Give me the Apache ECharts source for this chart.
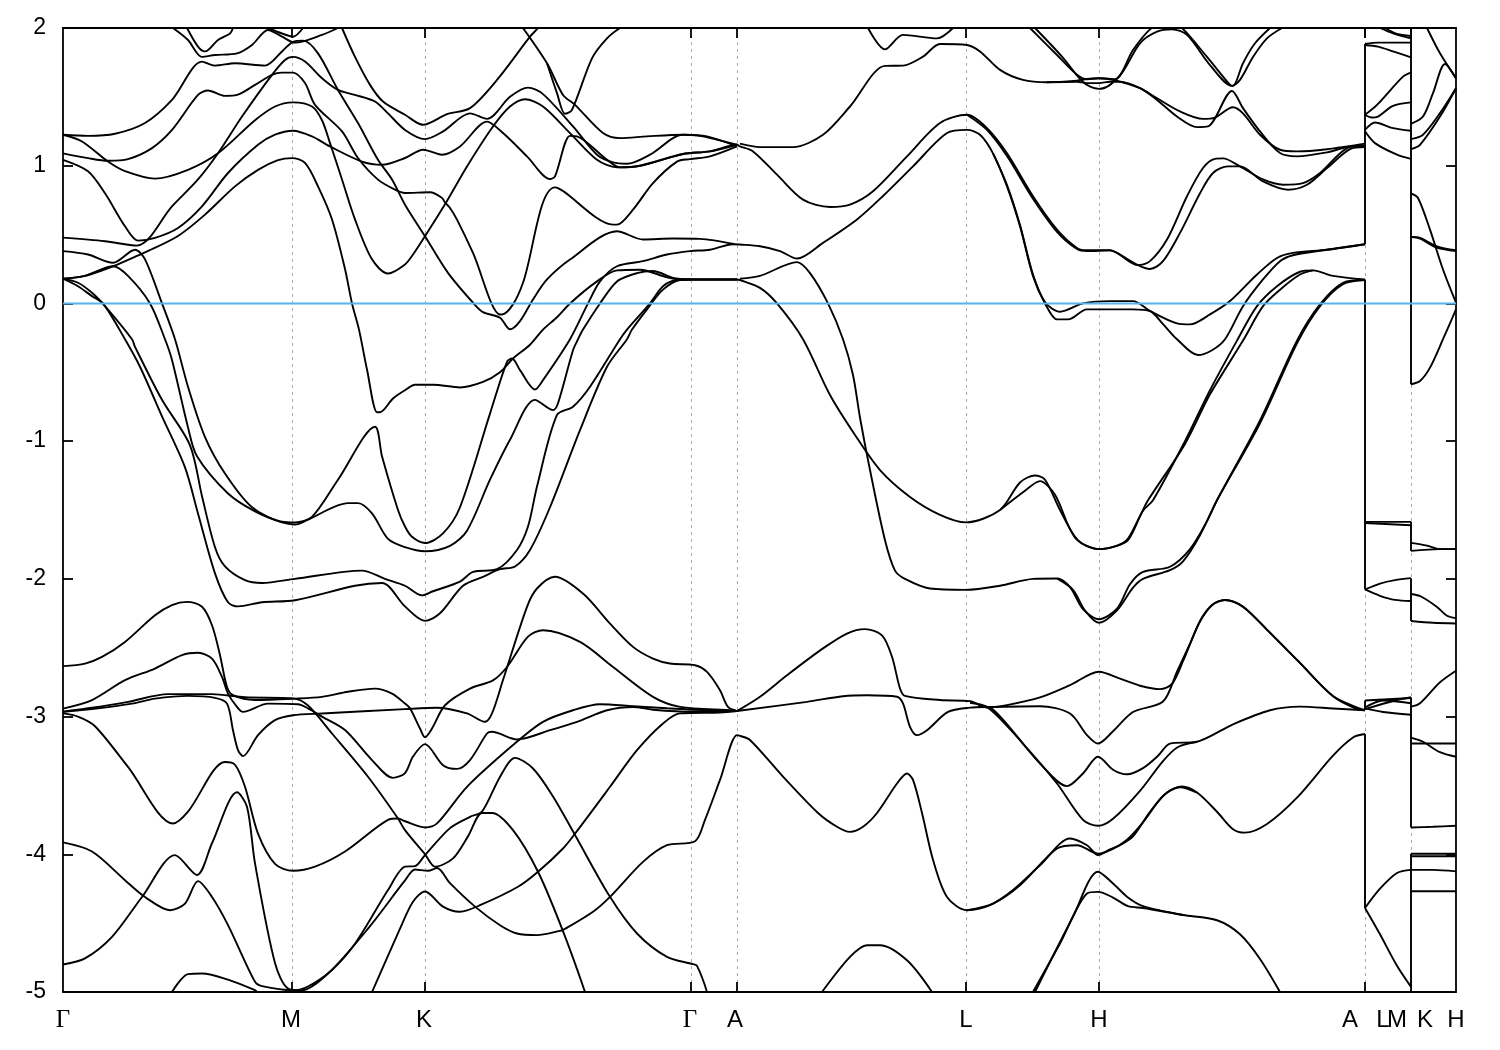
<!DOCTYPE html>
<html><head><meta charset="utf-8">
<style>html,body{margin:0;padding:0;background:#fff}#c{width:1500px;height:1050px}</style>
<script src="https://cdn.jsdelivr.net/npm/echarts@6/dist/echarts.min.js"></script>
</head><body><div id="c"></div>
<script>
// k-path coordinate (arbitrary path units) and energy (eV)
const tickK=[229,362,628,674,903,1036,1302,1348];
const labelK=[0,228,361,627,672,903,1036,1287,1320,1334,1362,1393];
const labelText=['Γ','M','K','Γ','A','L','H','A','L','M','K','H'];
const yTicks=[-5,-4,-3,-2,-1,0,1,2];
const fermi=[[0,0],[1393,0]];

const band01=[[0,.18],[22,.20],[50,.27],[77,.355],[82,.37],[115,.49],[142,.645],[172,.85],[195,.97],[215,1.04],[229,1.055],[242,1.02],[255,.85],[269,.61],[282,.25],[289,0],[296,-.19],[304,-.48],[314,-.79],[317,-.79],[330,-.69],[342,-.63],[352,-.59],[370,-.59],[397,-.61],[420,-.57],[437,-.50],[450,-.40],[467,-.30],[480,-.19],[494,-.10],[507,0],[534,.16],[554,.24],[577,.245],[604,.19],[620,.174],[628,.174],[674,.174],[677,.17],[697,.113],[714,0],[740,-.26],[767,-.665],[792,-.955],[817,-1.21],[847,-1.405],[877,-1.535],[903,-1.59],[937,-1.50],[957,-1.30],[972,-1.25],[982,-1.28],[997,-1.50],[1015,-1.72],[1036,-1.784],[1054,-1.759],[1065,-1.708],[1080,-1.505],[1090,-1.429],[1122,-1],[1147,-.63],[1174,-.27],[1194,-.02],[1214,.125],[1237,.23],[1250,.24],[1270,.20],[1302,.174]];
const band02=[[937,-1.50],[962,-1.36],[977,-1.29],[992,-1.39],[1012,-1.70],[1036,-1.784],[1054,-1.76],[1065,-1.72],[1078,-1.53],[1085,-1.43],[1122,-1.02],[1147,-.66],[1180,-.27],[1200,-.02],[1217,.10],[1237,.21],[1250,.24]];
const band03=[[677,.18],[697,.2],[734,.30],[747,.22],[765,0],[780,-.26],[790,-.52],[797,-.83],[807,-1.21],[822,-1.72],[832,-1.94],[842,-2.0],[867,-2.07],[903,-2.08],[937,-2.05],[970,-2.0],[994,-1.997],[1007,-2.06],[1020,-2.22],[1036,-2.293],[1054,-2.217],[1067,-2.039],[1080,-1.95],[1107,-1.912],[1127,-1.784],[1144,-1.581],[1154,-1.429],[1197,-.85],[1234,-.27],[1257,-.007],[1280,.15],[1302,.17]];
const band04=[[994,-1.997],[1010,-2.08],[1022,-2.23],[1036,-2.319],[1054,-2.229],[1070,-2.064],[1080,-2.0],[1107,-1.937],[1120,-1.873],[1137,-1.683],[1154,-1.429],[1197,-.87],[1234,-.29],[1257,-.02],[1280,.14],[1302,.17]];
const band05=[[0,.18],[15,.15],[29,.077],[42,-.02],[69,-.26],[72,-.315],[99,-.70],[127,-1.03],[139,-1.40],[152,-1.77],[162,-1.91],[182,-2.01],[199,-2.03],[232,-2.0],[299,-1.94],[322,-2.0],[342,-2.05],[359,-2.12],[370,-2.09],[397,-2.02],[410,-1.95],[434,-1.93],[454,-1.79],[465,-1.62],[474,-1.33],[494,-.81],[510,-.75],[527,-.605],[557,-.26],[564,-.19],[587,0],[600,.125],[614,.17],[628,.174],[674,.174]];
const band06=[[0,.18],[15,.125],[29,.053],[40,0],[62,-.26],[77,-.46],[99,-.82],[122,-1.19],[135,-1.525],[152,-1.96],[165,-2.17],[175,-2.2],[199,-2.17],[232,-2.155],[292,-2.05],[319,-2.03],[342,-2.2],[362,-2.305],[377,-2.25],[400,-2.05],[420,-1.985],[437,-1.93],[452,-1.91],[467,-1.79],[487,-1.48],[517,-.92],[544,-.46],[564,-.26],[569,-.19],[584,-.043],[600,.10],[617,.17],[628,.174],[674,.174]];
const band07=[[0,.18],[22,.2],[50,.27],[65,.2],[87,0],[102,-.26],[109,-.41],[125,-.90],[134,-1.11],[165,-1.38],[192,-1.51],[219,-1.59],[232,-1.605],[245,-1.57],[285,-1.45],[295,-1.45],[309,-1.525],[325,-1.71],[342,-1.77],[362,-1.80],[387,-1.76],[404,-1.65],[427,-1.28],[447,-.99],[472,-.70],[490,-.775],[495,-.725],[510,-.34],[515,-.26],[520,-.19],[537,0],[554,.16],[574,.22],[590,.235],[610,.186],[628,.174]];
const band08=[[0,.38],[25,.355],[50,.295],[72,.39],[82,.32],[99,0],[112,-.26],[125,-.605],[142,-.97],[162,-1.235],[189,-1.48],[219,-1.585],[232,-1.59],[249,-1.55],[275,-1.28],[312,-.896],[319,-1.11],[335,-1.50],[342,-1.62],[349,-1.695],[362,-1.74],[380,-1.67],[397,-1.48],[427,-.80],[444,-.424],[449,-.40],[457,-.484],[472,-.625],[480,-.557],[507,-.26],[525,0],[537,.16],[554,.27],[580,.307],[604,.355],[627,.38],[647,.39],[670,.43],[677,.4275],[697,.415],[717,.38],[734,.326],[760,.44],[794,.61],[820,.78],[850,.995],[884,1.237],[904,1.26],[917,1.225],[930,1.09],[944,.85],[957,.56],[970,.198],[982,0],[994,-.116],[1005,-.116],[1024,-.043],[1047,-.043],[1070,-.043],[1087,-.055],[1100,-.15],[1114,-.26],[1135,-.375],[1149,-.34],[1162,-.26],[1180,-.02],[1200,.174],[1217,.307],[1230,.35],[1264,.39],[1302,.43]];
const band09=[[930,1.09],[944,.86],[957,.57],[970,.21],[982,.01],[997,-.06],[1020,0],[1047,.017],[1070,.017],[1087,-.055],[1114,-.145],[1127,-.152],[1147,-.08],[1167,.017],[1194,.21],[1214,.33],[1230,.367],[1264,.39],[1302,.43]];
const band10=[[0,1.225],[19,1.176],[45,1.03],[62,.96],[92,.906],[125,.97],[155,1.09],[192,1.33],[212,1.43],[230,1.46],[249,1.43],[259,1.33],[267,1.164],[279,.90],[292,.61],[309,.32],[325,.217],[342,.283],[350,.355],[362,.488],[382,.72],[404,.995],[430,1.285],[447,1.43],[462,1.483],[480,1.43],[507,1.237],[534,1.043],[554,.988],[577,1.0],[620,1.085],[647,1.104],[674,1.152],[677,1.14],[690,1.104],[714,.935],[740,.754],[767,.70],[787,.717],[810,.814],[844,1.068],[877,1.31],[904,1.37],[924,1.273],[944,1.09],[970,.778],[994,.536],[1014,.403],[1024,.386],[1047,.386],[1054,.367],[1075,.278],[1087,.307],[1104,.464],[1124,.778],[1140,.983],[1152,1.05],[1160,1.053],[1177,.995],[1200,.9],[1220,.862],[1240,.874],[1257,.947],[1284,1.128],[1302,1.145]];
const band11=[[904,1.37],[924,1.26],[944,1.07],[970,.76],[994,.52],[1014,.395],[1024,.38],[1047,.385],[1054,.367],[1075,.278],[1087,.25],[1100,.307],[1117,.512],[1137,.80],[1150,.947],[1165,.995],[1177,.995],[1200,.886],[1225,.826],[1244,.862],[1264,.983],[1287,1.12],[1302,1.135]];
const band12=[[0,1.225],[25,1.217],[52,1.232],[82,1.31],[109,1.478],[139,1.756],[152,1.727],[172,1.744],[202,1.727],[219,1.83],[230,1.90],[240,1.908],[255,1.816],[275,1.55],[295,1.31],[315,1.043],[329,.90],[342,.717],[362,.488],[385,.222],[410,.005],[420,-.063],[437,-.104],[447,-.188],[457,-.128],[470,.029],[484,.174],[507,.319],[554,.524],[580,.464],[610,.471],[637,.469],[672,.43]];
const band13=[[0,.478],[42,.452],[74,.42],[109,.705],[135,.9],[155,1.09],[179,1.357],[209,1.66],[222,1.768],[230,1.79],[242,1.756],[259,1.635],[275,1.55],[292,1.514],[312,1.466],[325,1.38],[342,1.26],[362,1.193],[380,1.249],[407,1.38],[424,1.34],[447,1.50],[465,1.567],[480,1.52],[510,1.285],[534,1.08],[550,1.024],[564,1.014],[587,1.08],[620,1.225],[644,1.213],[674,1.14]];
const band14=[[0,1.043],[25,.96],[42,.80],[62,.56],[75,.456],[92,.476],[115,.548],[139,.705],[165,.947],[195,1.152],[212,1.225],[230,1.254],[249,1.213],[267,1.14],[299,1.03],[319,1.007],[342,1.056],[360,1.116],[379,1.08],[397,1.14],[424,1.32],[440,1.237],[464,1.068],[487,.903],[492,.923],[507,1.217],[514,1.213],[544,1.043],[557,.988],[577,1.0],[620,1.085],[647,1.104],[674,1.152]];
const band15=[[455,2.05],[484,1.744],[500,1.514],[512,1.442],[540,1.237],[557,1.20],[584,1.213],[620,1.225],[637,1.217],[674,1.152]];
const band16=[[484,1.744],[494,1.527],[502,1.377],[509,1.406],[529,1.78],[544,1.925],[557,2.0],[570,2.05]];
const band17=[[279,2.0],[292,1.79],[307,1.587],[320,1.466],[342,1.37],[360,1.297],[384,1.374],[407,1.418],[434,1.623],[467,1.937],[475,2.0],[480,2.05]];
const band18=[[110,2.0],[125,1.913],[139,1.79],[152,1.804],[174,1.816],[189,1.877],[205,1.986],[219,1.937],[232,1.894],[259,1.95],[275,2.0]];
const band19=[[124,2.0],[135,1.865],[142,1.83],[155,1.913],[167,1.96],[170,2.0]];
const band20=[[205,2.0],[219,1.96],[230,1.937],[240,2.0]];
const band21=[[677,1.16],[697,1.135],[730,1.135],[760,1.225],[787,1.43],[822,1.725],[840,1.727],[860,1.792],[877,1.884],[904,1.877],[917,1.83],[937,1.696],[960,1.623],[984,1.606],[1014,1.618],[1024,1.63],[1036,1.635],[1047,1.628],[1057,1.61],[1077,1.563],[1094,1.49],[1117,1.394],[1140,1.34],[1152,1.35],[1170,1.425],[1180,1.38],[1197,1.225],[1217,1.116],[1234,1.104],[1264,1.12],[1302,1.16]];
const band22=[[984,1.606],[1014,1.61],[1024,1.6],[1036,1.6],[1047,1.61],[1057,1.61],[1077,1.563],[1094,1.478],[1114,1.357],[1134,1.28],[1145,1.285],[1169,1.543],[1180,1.418],[1197,1.249],[1217,1.092],[1234,1.068],[1264,1.097],[1284,1.135],[1302,1.145]];
const band23=[[805,2.0],[822,1.845],[840,1.95],[874,1.925],[890,2.0]];
const band24=[[967,2.0],[994,1.804],[1014,1.66],[1024,1.628],[1036,1.635],[1052,1.628],[1070,1.84],[1087,1.99],[1100,2.03],[1110,2.03],[1119,2.0],[1144,1.79],[1167,1.587],[1170,1.58],[1180,1.744],[1192,1.889],[1207,2.0]];
const band25=[[972,2.0],[999,1.792],[1015,1.647],[1024,1.587],[1036,1.558],[1047,1.587],[1060,1.684],[1077,1.889],[1094,1.973],[1109,1.99],[1124,1.95],[1147,1.73],[1169,1.58],[1177,1.623],[1190,1.79],[1204,1.925],[1219,2.0]];
const band26=[[0,1.09],[25,1.055],[45,1.036],[65,1.048],[89,1.128],[109,1.26],[135,1.514],[145,1.546],[162,1.507],[174,1.514],[192,1.587],[209,1.66],[219,1.676],[230,1.676],[242,1.6],[252,1.442],[279,1.249],[295,1.056],[315,.899],[332,.826],[342,.802],[367,.807],[379,.766],[382,.734],[387,.693],[394,.609],[410,.367],[437,-.08],[439,-.08],[450,-.007],[460,.15],[492,.843],[550,.572],[554,.572],[570,.681],[590,.874],[614,1.03],[627,1.048],[647,1.068],[674,1.14]];
const band27=[[0,-2.634],[22,-2.615],[39,-2.567],[62,-2.458],[92,-2.264],[109,-2.19],[124,-2.167],[139,-2.203],[149,-2.337],[157,-2.554],[164,-2.785],[170,-2.845],[192,-2.88],[232,-2.87],[259,-2.857],[285,-2.82],[312,-2.797],[329,-2.833],[342,-2.905],[347,-2.94],[357,-3.087],[362,-3.15],[369,-3.087],[382,-2.918],[407,-2.797],[430,-2.737],[444,-2.64],[465,-2.42],[480,-2.373],[517,-2.458],[550,-2.64],[590,-2.857],[617,-2.93],[670,-2.954],[674,-2.96]];
const band28=[[0,-2.942],[29,-2.88],[62,-2.736],[92,-2.651],[119,-2.554],[135,-2.537],[149,-2.579],[159,-2.712],[165,-2.833],[174,-2.93],[180,-2.966],[205,-2.906],[235,-2.91],[245,-2.94],[259,-3.0],[282,-3.098],[309,-3.316],[330,-3.445],[342,-3.41],[350,-3.29],[362,-3.2],[380,-3.353],[394,-3.38],[407,-3.316],[424,-3.123],[429,-3.11],[454,-3.166],[487,-3.099],[514,-3.038],[544,-2.954],[570,-2.93],[590,-2.95],[630,-2.965],[674,-2.96]];
const band29=[[0,-2.965],[25,-2.94],[65,-2.893],[105,-2.837],[149,-2.837],[182,-2.86],[230,-2.868],[245,-2.92],[269,-3.123],[305,-3.437],[335,-3.74],[342,-3.825],[362,-4.0],[372,-4.09],[390,-4.03],[405,-3.87],[419,-3.7],[429,-3.7],[450,-3.825],[475,-4.127],[499,-4.54],[522,-5.0],[530,-5.2]];
const band30=[[0,-2.966],[35,-2.94],[69,-2.906],[92,-2.87],[125,-2.85],[152,-2.864],[164,-2.906],[170,-3.1],[175,-3.244],[180,-3.287],[195,-3.135],[212,-3.026],[230,-2.99],[259,-2.978],[342,-2.946],[374,-2.936],[404,-2.977],[422,-3.038],[429,-2.977],[440,-2.735],[464,-2.203],[474,-2.07],[492,-1.985],[520,-2.107],[547,-2.325],[570,-2.494],[590,-2.579],[607,-2.615],[632,-2.627],[644,-2.676],[657,-2.809],[665,-2.93],[674,-2.96]];
const band31=[[0,-2.977],[15,-3.0],[32,-3.07],[65,-3.365],[110,-3.776],[125,-3.69],[162,-3.33],[172,-3.35],[182,-3.51],[195,-3.85],[212,-4.07],[230,-4.12],[252,-4.09],[282,-3.98],[325,-3.75],[335,-3.74],[342,-3.76],[362,-3.805],[374,-3.776],[404,-3.51],[450,-3.207],[480,-3.038],[510,-2.954],[537,-2.91],[570,-2.924],[604,-2.94],[630,-2.95],[674,-2.96]];
const band32=[[0,-3.914],[29,-3.98],[62,-4.188],[82,-4.31],[107,-4.406],[122,-4.358],[135,-4.195],[149,-4.31],[165,-4.514],[192,-4.926],[199,-4.957],[230,-4.987],[245,-4.96],[269,-4.84],[292,-4.65],[325,-4.26],[342,-4.09],[352,-4.086],[362,-4.006],[387,-3.81],[407,-3.728],[419,-3.69],[437,-3.438],[452,-3.3],[470,-3.377],[490,-3.58],[512,-3.86],[547,-4.309],[574,-4.575],[604,-4.745],[630,-4.798],[634,-4.81],[644,-5.0],[650,-5.2]];
const band33=[[0,-4.8],[22,-4.756],[49,-4.6],[79,-4.31],[112,-4.006],[134,-4.15],[149,-3.92],[174,-3.55],[184,-3.655],[192,-4.066],[212,-4.79],[225,-4.975],[239,-4.987],[265,-4.866],[305,-4.54],[342,-4.19],[352,-4.11],[365,-4.12],[374,-4.1],[387,-4.21],[412,-4.38],[437,-4.515],[454,-4.575],[474,-4.587],[497,-4.556],[500,-4.55],[530,-4.417],[547,-4.309],[580,-4.055],[604,-3.934],[632,-3.905],[642,-3.75],[657,-3.46],[674,-3.135],[677,-3.14],[687,-3.17],[720,-3.436],[755,-3.70],[774,-3.80],[787,-3.837],[800,-3.80],[814,-3.70],[834,-3.486],[844,-3.413],[850,-3.46],[859,-3.70],[870,-4.04],[884,-4.31],[904,-4.406],[927,-4.37],[950,-4.26],[977,-4.08],[1007,-3.885],[1024,-3.934],[1035,-4.006],[1047,-3.965],[1057,-3.933],[1070,-3.869],[1087,-3.691],[1104,-3.552],[1119,-3.508],[1134,-3.552],[1154,-3.691],[1170,-3.818],[1182,-3.843],[1204,-3.78],[1234,-3.589],[1270,-3.284],[1290,-3.152],[1302,-3.127]];
const band34=[[904,-4.406],[930,-4.358],[957,-4.225],[994,-3.958],[1014,-3.934],[1035,-3.995],[1050,-3.96],[1064,-3.895],[1080,-3.768],[1100,-3.577],[1117,-3.513],[1134,-3.552]];
const band35=[[303,-5.1],[337,-4.54],[350,-4.345],[362,-4.27],[380,-4.38],[397,-4.417],[417,-4.37],[455,-4.236],[475,-4.127],[500,-3.958],[512,-3.85],[547,-3.51],[574,-3.244],[600,-3.05],[617,-2.977],[657,-2.97],[674,-2.96]];
const band36=[[109,-5],[125,-4.87],[139,-4.866],[165,-4.91],[192,-4.987],[194,-5]];
const band37=[[674,-2.96],[697,-2.856],[724,-2.7],[760,-2.505],[784,-2.397],[802,-2.365],[819,-2.41],[829,-2.566],[837,-2.796],[842,-2.85],[877,-2.88],[907,-2.888],[925,-2.935],[944,-2.917],[977,-2.861],[1007,-2.772],[1036,-2.674],[1057,-2.725],[1077,-2.776],[1097,-2.801],[1109,-2.763],[1120,-2.598],[1137,-2.306],[1149,-2.191],[1162,-2.153],[1180,-2.204],[1204,-2.369],[1237,-2.611],[1270,-2.852],[1294,-2.946],[1302,-2.954]];
const band38=[[674,-2.96],[744,-2.893],[780,-2.852],[804,-2.845],[834,-2.856],[840,-2.905],[847,-3.074],[854,-3.135],[864,-3.099],[885,-2.966],[907,-2.935],[927,-2.93],[977,-2.925],[1007,-2.978],[1024,-3.135],[1035,-3.196],[1050,-3.107],[1070,-2.967],[1100,-2.891],[1114,-2.674],[1127,-2.471],[1137,-2.31],[1149,-2.19],[1162,-2.153],[1180,-2.2],[1204,-2.37],[1237,-2.61],[1270,-2.85],[1302,-2.954]];
const band39=[[907,-2.9],[925,-2.935],[954,-3.147],[977,-3.341],[1004,-3.505],[1020,-3.413],[1035,-3.292],[1050,-3.386],[1064,-3.419],[1080,-3.374],[1095,-3.285],[1107,-3.196],[1134,-3.183],[1170,-3.056],[1207,-2.954],[1237,-2.928],[1270,-2.941],[1302,-2.954]];
const band40=[[915,-2.92],[930,-2.949],[960,-3.196],[994,-3.486],[1020,-3.75],[1035,-3.793],[1050,-3.742],[1077,-3.539],[1100,-3.323],[1115,-3.221],[1134,-3.183]];
const band41=[[970,-5],[997,-4.648],[1024,-4.285],[1035,-4.273],[1050,-4.314],[1065,-4.377],[1080,-4.39],[1120,-4.441],[1154,-4.479],[1177,-4.581],[1197,-4.76],[1217,-5]];
const band42=[[972,-5],[1010,-4.454],[1035,-4.127],[1050,-4.212],[1065,-4.314],[1080,-4.377],[1120,-4.441]];
const band43=[[759,-5],[787,-4.745],[804,-4.66],[817,-4.66],[844,-4.77],[869,-5]];
// A|L to M segment
const lm01=[[1302,1.877],[1315,1.865],[1330,1.83],[1348,1.787]];
const lm02=[[1302,1.884],[1315,1.894],[1348,1.894]];
const lm03=[[1317,2.0],[1330,1.961],[1348,1.925]];
const lm04=[[1322,2.0],[1334,1.957],[1348,1.942]];
const lm05=[[1302,1.37],[1314,1.442],[1340,1.647],[1348,1.676]];
const lm06=[[1302,1.37],[1309,1.35],[1315,1.357],[1330,1.435],[1348,1.46]];
const lm07=[[1302,1.26],[1312,1.314],[1330,1.273],[1348,1.254]];
const lm08=[[1302,1.25],[1312,1.164],[1334,1.08],[1348,1.05]];
const lm09=[[1302,-1.586],[1348,-1.586]];
const lm10=[[1302,-1.594],[1348,-1.611]];
const lm11=[[1302,-2.077],[1317,-2.034],[1332,-2.009],[1348,-1.995]];
const lm12=[[1302,-2.077],[1317,-2.123],[1332,-2.153],[1348,-2.161]];
const lm13=[[1302,-2.946],[1332,-2.883],[1348,-2.86]];
const lm14=[[1302,-2.934],[1320,-2.883],[1348,-2.903]];
const lm15=[[1302,-2.883],[1348,-2.865]];
const lm16=[[1302,-2.941],[1320,-2.967],[1348,-2.987]];
const lm17=[[1302,-4.39],[1317,-4.25],[1334,-4.136],[1348,-4.113]];
const lm18=[[1302,-4.39],[1317,-4.581],[1334,-4.81],[1348,-4.963]];
// K to H segment
const kh01=[[1364,2.0],[1377,1.816],[1393,1.635]];
const kh02=[[1348,1.304],[1360,1.357],[1370,1.527],[1382,1.739],[1393,1.635]];
const kh03=[[1348,1.193],[1360,1.225],[1377,1.382],[1393,1.563]];
const kh04=[[1348,1.12],[1357,1.152],[1377,1.357],[1393,1.563]];
const kh05=[[1348,.80],[1355,.766],[1367,.536],[1380,.246],[1393,.005]];
const kh06=[[1348,.483],[1357,.476],[1374,.415],[1393,.386]];
const kh07=[[1348,.483],[1357,.47],[1374,.405],[1393,.38]];
const kh08=[[1348,-.587],[1357,-.563],[1367,-.466],[1380,-.26],[1393,-.043]];
const kh09=[[1348,-1.739],[1364,-1.759],[1377,-1.784],[1393,-1.784]];
const kh10=[[1348,-1.797],[1377,-1.784],[1393,-1.784]];
const kh11=[[1348,-2.11],[1358,-2.128],[1374,-2.204],[1384,-2.268],[1393,-2.285]];
const kh12=[[1348,-2.306],[1370,-2.319],[1393,-2.324]];
const kh13=[[1348,-2.928],[1357,-2.903],[1377,-2.751],[1393,-2.667]];
const kh14=[[1348,-3.153],[1360,-3.183],[1377,-3.259],[1393,-3.292]];
const kh15=[[1348,-3.196],[1393,-3.196]];
const kh16=[[1348,-3.806],[1370,-3.8],[1393,-3.793]];
const kh17=[[1348,-3.996],[1393,-3.996]];
const kh18=[[1348,-4.014],[1393,-4.014]];
const kh19=[[1348,-4.113],[1370,-4.113],[1393,-4.124]];
const kh20=[[1348,-4.268],[1393,-4.268]];
// jumps at the path discontinuities
const jump01=[[1302,2.05],[1302,1.93]];
const jump02=[[1302,1.884],[1302,.43]];
const jump03=[[1302,.174],[1302,-2.077]];
const jump04=[[1302,-2.883],[1302,-2.946]];
const jump05=[[1302,-3.127],[1302,-4.39]];
const jump06=[[1348,2.05],[1348,-.587]];
const jump07=[[1348,-1.586],[1348,-1.797]];
const jump08=[[1348,-1.995],[1348,-2.306]];
const jump09=[[1348,-2.86],[1348,-3.806]];
const jump10=[[1348,-3.996],[1348,-4.963]];

const curves=[band01,band02,band03,band04,band05,band06,band07,band08,band09,band10,band11,band12,band13,band14,band15,band16,band17,band18,band19,band20,band21,band22,band23,band24,band25,band26,band27,band28,band29,band30,band31,band32,band33,band34,band35,band36,band37,band38,band39,band40,band41,band42,band43,lm01,lm02,lm03,lm04,lm05,lm06,lm07,lm08,lm09,lm10,lm11,lm12,lm13,lm14,lm15,lm16,lm17,lm18,kh01,kh02,kh03,kh04,kh05,kh06,kh07,kh08,kh09,kh10,kh11,kh12,kh13,kh14,kh15,kh16,kh17,kh18,kh19,kh20];
const jumps=[jump01,jump02,jump03,jump04,jump05,jump06,jump07,jump08,jump09,jump10];

const font='"Liberation Sans"';
const series=[];
curves.forEach(d=>series.push({type:'line',data:d,smooth:0.3,showSymbol:false,symbol:'none',silent:true,lineStyle:{color:'#000',width:1.9},animation:false}));
jumps.forEach(d=>series.push({type:'line',data:d,smooth:false,showSymbol:false,symbol:'none',silent:true,lineStyle:{color:'#000',width:1.9},animation:false}));
series.push({type:'line',data:fermi,showSymbol:false,symbol:'none',silent:true,lineStyle:{color:'#56b4e9',width:2},animation:false,z:5});

const tick={show:true,inside:true,length:10,lineStyle:{color:'#000',width:1.8}};
const line={show:true,onZero:false,lineStyle:{color:'#000',width:1.8}};
const chart=echarts.init(document.getElementById('c'),null,{renderer:'canvas'});
chart.setOption({
  animation:false,backgroundColor:'#fff',
  grid:{left:63,right:44,top:28,bottom:58,show:false},
  xAxis:[{type:'value',min:0,max:1393,position:'bottom',axisLine:line,
    axisTick:Object.assign({},tick,{customValues:tickK}),
    axisLabel:{show:true,customValues:labelK,margin:16,fontFamily:font,fontSize:24,color:'#000',
      formatter:v=>{const t=labelText[labelK.indexOf(v)];return t==='Γ'?'{g|Γ}':t;},
      rich:{g:{fontFamily:'"Liberation Serif"',fontSize:25,color:'#000'}}},
    splitLine:{show:true,lineStyle:{color:'#aaa',type:[3,4],width:1}}},
   {type:'value',min:0,max:1393,position:'top',axisLine:line,
    axisTick:Object.assign({},tick,{customValues:tickK}),axisLabel:{show:false},splitLine:{show:false}}],
  yAxis:[{type:'value',min:-5,max:2,interval:1,position:'left',axisLine:line,axisTick:tick,
    axisLabel:{show:true,margin:17,fontFamily:font,fontSize:23,color:'#000',formatter:v=>yTicks.includes(v)?String(v):''},splitLine:{show:false}},
   {type:'value',min:-5,max:2,interval:1,position:'right',axisLine:line,axisTick:tick,axisLabel:{show:false},splitLine:{show:false}}],
  series
});
</script></body></html>
